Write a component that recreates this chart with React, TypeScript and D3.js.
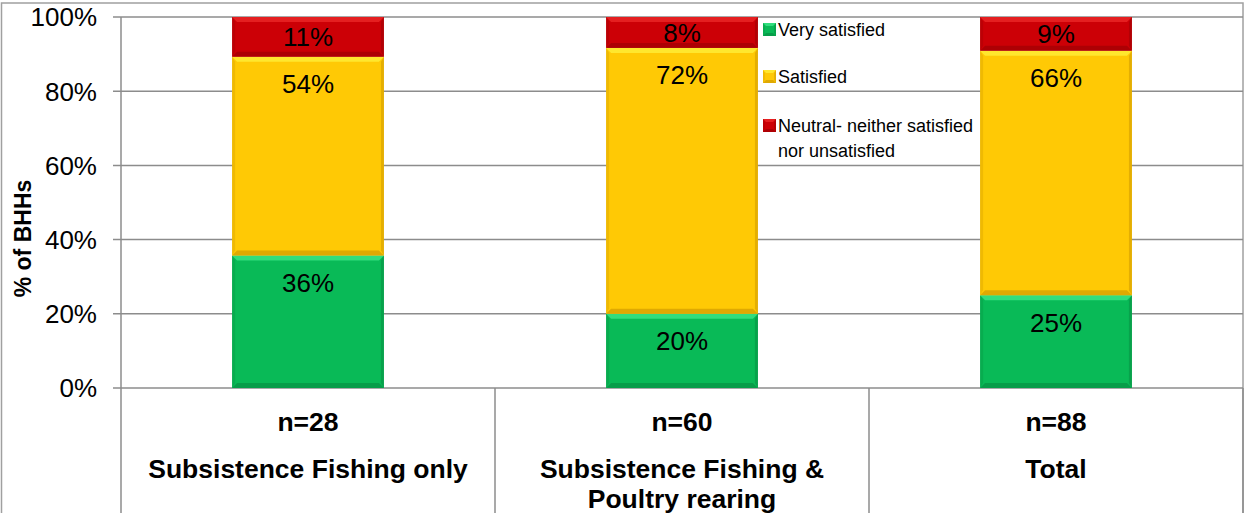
import React from "react";
import * as d3 from "d3";

// Household counts behind each group's satisfaction shares
const categories = ["Subsistence Fishing only", "Subsistence Fishing & Poultry rearing", "Total"];
const categoryLines = [["Subsistence Fishing only"], ["Subsistence Fishing &", "Poultry rearing"], ["Total"]];
const sampleSizes = [28, 60, 88];
const verySatisfied = [10 / 28, 12 / 60, 22 / 88];
const satisfied = [15 / 28, 43 / 60, 58 / 88];
const neutral = [3 / 28, 5 / 60, 8 / 88];
const seriesNames = ["Very satisfied", "Satisfied", "Neutral- neither satisfied nor unsatisfied"];
const yTicks = [0, 0.2, 0.4, 0.6, 0.8, 1];

const W = 1244;
const H = 513;
const plot = { left: 121, right: 1243, top: 17, bottom: 388 };

// base, highlight (top bevel), shade (side/bottom bevel)
const palette = [
  { base: "#09BA57", light: "#3FE88A", dark: "#068A40" },
  { base: "#FFC905", light: "#FFF03C", dark: "#C99400" },
  { base: "#CC0006", light: "#EE2A2A", dark: "#980004" },
];

const FONT = "'Liberation Sans', Arial, sans-serif";

function BevelRect({ x, y, w, h, c, b = 5 }: { x: number; y: number; w: number; h: number; c: typeof palette[0]; b?: number }) {
  const bb = Math.min(b, h / 2, w / 2);
  const pts = (arr: number[][]) => arr.map((p) => p.join(",")).join(" ");
  return (
    <g>
      <rect x={x} y={y} width={w} height={h} fill={c.base} />
      <polygon points={pts([[x, y], [x + w, y], [x + w - bb, y + bb], [x + bb, y + bb]])} fill={c.light} opacity={0.75} />
      <polygon points={pts([[x, y + h], [x + w, y + h], [x + w - bb, y + h - bb], [x + bb, y + h - bb]])} fill={c.dark} opacity={0.6} />
      <polygon points={pts([[x, y], [x + bb * 0.6, y + bb], [x + bb * 0.6, y + h - bb], [x, y + h]])} fill={c.dark} opacity={0.3} />
      <polygon points={pts([[x + w, y], [x + w - bb * 0.6, y + bb], [x + w - bb * 0.6, y + h - bb], [x + w, y + h]])} fill={c.dark} opacity={0.5} />
    </g>
  );
}

export default function App() {
  const x = d3
    .scaleBand<string>()
    .domain(categories)
    .range([plot.left, plot.right])
    .paddingInner(0.594)
    .paddingOuter(0.297);
  const y = d3.scaleLinear().domain([0, 1]).range([plot.bottom, plot.top]);
  const pct = d3.format(".0%");
  const tickFmt = d3.format(".0%");

  const rows = categories.map((cat, i) => ({
    cat,
    v0: verySatisfied[i],
    v1: satisfied[i],
    v2: neutral[i],
  }));
  const stack = d3.stack<any>().keys(["v0", "v1", "v2"])(rows);

  const step = x.step();
  const boundaries = [plot.left, ...categories.map((c) => (x(c) as number) - (step - x.bandwidth()) / 2 + step)];

  return (
    <svg width={W} height={H} style={{ position: "absolute", left: 0, top: 0, background: "#fff" }} fontFamily={FONT}>
      {/* frame */}
      <rect x={1.5} y={3} width={W - 2.5} height={H + 10} fill="none" stroke="#a0a0a0" strokeWidth={1.5} />

      {/* gridlines and ticks */}
      {yTicks.map((t) => (
        <g key={t}>
          <line x1={plot.left - 8} x2={plot.right} y1={y(t)} y2={y(t)} stroke="#8c8c8c" strokeWidth={1.5} />
          <text x={97} y={y(t)} dy="0.36em" textAnchor="end" fontSize={26} fill="#000">
            {tickFmt(t)}
          </text>
        </g>
      ))}
      <line x1={plot.left} x2={plot.left} y1={plot.top} y2={plot.bottom} stroke="#8c8c8c" strokeWidth={1.5} />

      {/* axis title */}
      <text
        transform={`translate(31,${(plot.top + plot.bottom) / 2 + 36}) rotate(-90)`}
        textAnchor="middle"
        fontSize={23}
        fontWeight="bold"
        fill="#000"
      >
        % of BHHs
      </text>

      {/* stacked bars */}
      {stack.map((layer, si) =>
        layer.map((d, ci) => {
          const x0 = x(categories[ci]) as number;
          const yTop = y(d[1]);
          const yBot = y(d[0]);
          const h = yBot - yTop;
          const val = d[1] - d[0];
          const ly = yTop + Math.min(27, h / 2);
          return (
            <g key={`${si}-${ci}`}>
              <BevelRect x={x0} y={yTop} w={x.bandwidth()} h={h} c={palette[si]} />
              <text x={x0 + x.bandwidth() / 2} y={ly} dy="0.36em" textAnchor="middle" fontSize={26} fill="#000">
                {pct(val)}
              </text>
            </g>
          );
        })
      )}

      {/* category table below the axis */}
      {boundaries.map((bx, i) => (
        <line key={i} x1={bx} x2={bx} y1={plot.bottom} y2={H} stroke="#8c8c8c" strokeWidth={1.5} />
      ))}
      {categories.map((c, i) => {
        const cx = (x(c) as number) + x.bandwidth() / 2;
        return (
          <g key={c}>
            <text x={cx} y={421} dy="0.36em" textAnchor="middle" fontSize={26.5} fontWeight="bold" fill="#000">
              {`n=${sampleSizes[i]}`}
            </text>
            {categoryLines[i].map((ln, j) => (
              <text key={j} x={cx} y={468 + j * 30} dy="0.36em" textAnchor="middle" fontSize={26.5} fontWeight="bold" fill="#000">
                {ln}
              </text>
            ))}
          </g>
        );
      })}

      {/* legend */}
      {[
        { lines: [seriesNames[0]], y: 30 },
        { lines: [seriesNames[1]], y: 77 },
        { lines: ["Neutral- neither satisfied", "nor unsatisfied"], y: 126 },
      ].map((item, i) => (
        <g key={i}>
          <BevelRect x={763} y={item.y - 7} w={13} h={13} c={palette[i]} b={3} />
          {item.lines.map((ln, j) => (
            <text key={j} x={778} y={item.y + j * 25} dy="0.36em" fontSize={18} fill="#000">
              {ln}
            </text>
          ))}
        </g>
      ))}
    </svg>
  );
}
